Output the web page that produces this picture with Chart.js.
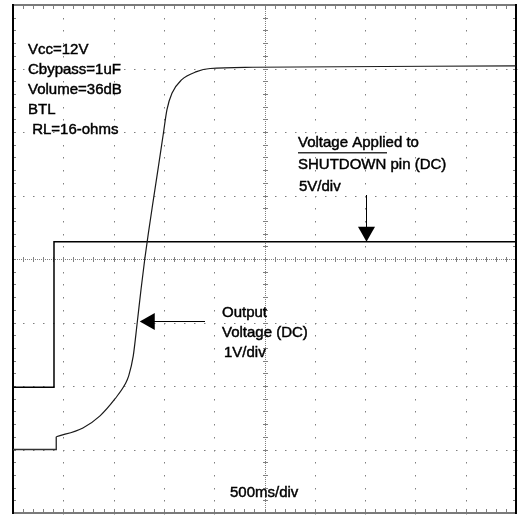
<!DOCTYPE html>
<html>
<head>
<meta charset="utf-8">
<script src="https://cdn.jsdelivr.net/npm/chart.js@4.4.1/dist/chart.umd.min.js"></script>
<style>
  html, body { margin: 0; padding: 0; background: #fff; }
  canvas { display: block; }
</style>
</head>
<body>
<canvas id="canvas" width="518" height="516"></canvas>
<script>
// scope screen in divisions: 10 across (500ms/div), 8 down, centre line = 0
// output trace: flat until the step at 0.86 div, then the smooth ramp
const outputTime  = [0, 0.86, 0.86, 1.39, 1.73, 2.03, 2.23, 2.30, 2.39, 2.47, 2.545, 2.62, 2.69, 2.79, 2.89, 2.99, 3.06, 3.16, 3.35, 3.65, 3.92, 4.77, 10];
const outputVolts = [-3.0, -3.0, -2.80, -2.66, -2.47, -2.20, -1.97, -1.84, -1.53, -1.00, -0.48, 0, 0.40, 0.93, 1.45, 1.98, 2.35, 2.61, 2.82, 2.95, 3.0, 3.02, 3.04];
const rampStart = 2; // index where the smooth part begins

const shutdownTime  = [0, 0.815, 0.815, 10];
const shutdownVolts = [-2.02, -2.02, 0.27, 0.27];

const settingsText = ['Vcc=12V', 'Cbypass=1uF', 'Volume=36dB', 'BTL', ' RL=16-ohms'];
const shutdownText = ['Voltage Applied to', 'SHUTDOWN pin (DC)', '5V/div'];
const outputText = ['Output', 'Voltage (DC)', '1V/div'];
const timebaseText = '500ms/div';

const FONT = '15px "Liberation Sans", Arial, sans-serif';

const graticule = {
  id: 'graticule',
  beforeDatasetsDraw(chart){
    const ctx = chart.ctx;
    const xs = chart.scales.x, ys = chart.scales.y;
    const a = chart.chartArea;
    const px = v => Math.round(xs.getPixelForValue(v));
    const py = v => Math.round(ys.getPixelForValue(v));
    ctx.save();
    ctx.fillStyle = '#808080';

    // dots on the major lines
    for(let i = 1; i < 10; i++){
      if(i == 5) continue;
      for(let k = 0; k <= 40; k++){
        ctx.fillRect(px(i), py(-4 + k * 0.2), 1, 1.5);
      }
    }
    for(let j = -3; j <= 3; j++){
      if(j == 0) continue;
      for(let k = 0; k <= 50; k++){
        ctx.fillRect(px(k * 0.2), py(j), 1.5, 1);
      }
    }

    // centre cross: fine dotted line plus small ticks
    for(let x = a.left; x < a.right; x += 2){
      ctx.fillRect(x, py(0), 1, 1);
    }
    for(let y = a.top; y < a.bottom; y += 2){
      ctx.fillRect(px(5), y, 1, 1);
    }
    for(let k = 0; k <= 50; k++){
      ctx.fillRect(px(k * 0.2), py(0) - 2, 1, 5);
    }
    for(let k = 0; k <= 40; k++){
      ctx.fillRect(px(5) - 2, py(-4 + k * 0.2), 5, 1);
    }

    // ticks along the frame
    for(let k = 1; k < 50; k++){
      ctx.fillRect(px(k * 0.2), a.top, 1, 4);
      ctx.fillRect(px(k * 0.2), a.bottom - 4, 1, 4);
    }
    for(let k = 1; k < 40; k++){
      ctx.fillRect(a.left, py(-4 + k * 0.2), 3, 1);
      ctx.fillRect(a.right - 3, py(-4 + k * 0.2), 3, 1);
    }

    // frame
    ctx.fillStyle = '#7a7a7a';
    ctx.fillRect(a.left, a.top - 1, a.right - a.left, 2);
    ctx.fillRect(a.left, a.bottom - 1, a.right - a.left, 2);
    ctx.fillStyle = '#000';
    ctx.fillRect(a.left - 1, a.top - 1, 2, a.bottom - a.top + 2);
    ctx.fillRect(a.right - 1, a.top - 1, 2, a.bottom - a.top + 2);
    ctx.restore();
  }
};

function heavyText(ctx, t, x, y){
  ctx.strokeText(t, x, y);
  ctx.fillText(t, x, y);
}

const labels = {
  id: 'labels',
  afterDatasetsDraw(chart){
    const ctx = chart.ctx;
    const a = chart.chartArea;
    const xs = chart.scales.x, ys = chart.scales.y;
    ctx.save();
    ctx.font = FONT;
    ctx.fillStyle = '#000';
    ctx.strokeStyle = '#000';
    ctx.lineWidth = 0.45;
    ctx.textBaseline = 'middle';
    ctx.textAlign = 'left';

    settingsText.forEach((t, i) => heavyText(ctx, t, a.left + 15, 50 + i * 20));

    heavyText(ctx, shutdownText[0], 298, 143);
    heavyText(ctx, shutdownText[1], 298, 165);
    heavyText(ctx, shutdownText[2], 299, 187);
    ctx.fillStyle = '#333';
    ctx.fillRect(298, 152, 89, 1.5);
    ctx.fillStyle = '#000';

    heavyText(ctx, outputText[0], 222, 313);
    heavyText(ctx, outputText[1], 222, 333);
    heavyText(ctx, outputText[2], 224, 353);

    heavyText(ctx, timebaseText, 230, 493);

    // arrow down onto the shutdown trace
    const sx = Math.round(xs.getPixelForValue(7.02)) + 0.5;
    const sy = ys.getPixelForValue(shutdownVolts[3]);
    ctx.lineWidth = 1;
    ctx.beginPath();
    ctx.moveTo(sx, 195);
    ctx.lineTo(sx, sy - 14);
    ctx.stroke();
    ctx.beginPath();
    ctx.moveTo(sx - 8.5, sy - 15);
    ctx.lineTo(sx + 8.5, sy - 15);
    ctx.lineTo(sx, sy);
    ctx.closePath();
    ctx.fill();

    // arrow left onto the output trace
    const ox = xs.getPixelForValue(2.52);
    const oy = Math.round(ys.getPixelForValue(-0.98)) + 0.5;
    ctx.beginPath();
    ctx.moveTo(205, oy);
    ctx.lineTo(ox + 14, oy);
    ctx.stroke();
    ctx.beginPath();
    ctx.moveTo(ox + 15, oy - 8.5);
    ctx.lineTo(ox + 15, oy + 8.5);
    ctx.lineTo(ox, oy);
    ctx.closePath();
    ctx.fill();
    ctx.restore();
  }
};

const outputPoints = outputTime.map((t, i) => ({x: t, y: outputVolts[i]}));

new Chart(document.getElementById('canvas'), {
  type: 'scatter',
  plugins: [graticule, labels],
  data: {
    datasets: [
      {
        label: 'Output Voltage (DC) step',
        data: outputPoints.slice(0, rampStart + 1),
        showLine: true,
        borderColor: '#333',
        borderWidth: 1.4,
        pointRadius: 0,
        tension: 0
      },
      {
        label: 'Output Voltage (DC)',
        data: outputPoints.slice(rampStart),
        showLine: true,
        borderColor: '#1a1a1a',
        borderWidth: 1.2,
        pointRadius: 0,
        cubicInterpolationMode: 'monotone'
      },
      {
        label: 'SHUTDOWN pin (DC)',
        data: shutdownTime.map((t, i) => ({x: t, y: shutdownVolts[i]})),
        showLine: true,
        borderColor: '#000',
        borderWidth: 1.5,
        pointRadius: 0,
        tension: 0
      }
    ]
  },
  options: {
    responsive: false,
    animation: false,
    layout: { padding: { left: 13, top: 5, right: 2, bottom: 3 } },
    scales: {
      x: { type: 'linear', min: 0, max: 10, display: false },
      y: { type: 'linear', min: -4, max: 4, display: false }
    },
    plugins: {
      legend: { display: false },
      tooltip: { enabled: false }
    }
  }
});
</script>
</body>
</html>
